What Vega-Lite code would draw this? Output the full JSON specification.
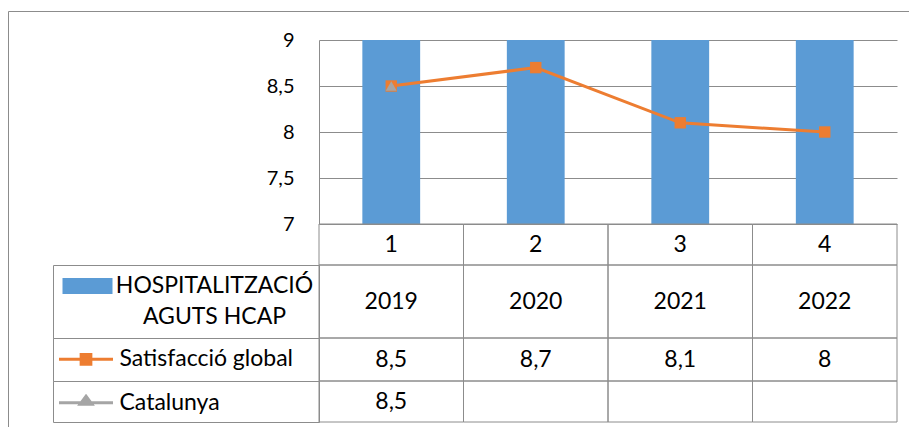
{
  "$schema": "https://vega.github.io/schema/vega-lite/v6.json",
  "padding": {"left": 8, "top": 11, "right": 0, "bottom": 0},
  "background": "white",
  "datasets": {
    "main": [
      {"idx": "1", "hosp": 2019, "sat": 8.5, "cat": 8.5},
      {"idx": "2", "hosp": 2020, "sat": 8.7, "cat": null},
      {"idx": "3", "hosp": 2021, "sat": 8.1, "cat": null},
      {"idx": "4", "hosp": 2022, "sat": 8, "cat": null}
    ],
    "series": [
      {"series": "HOSPITALITZACIÓ AGUTS HCAP"},
      {"series": "Satisfacció global"},
      {"series": "Catalunya"}
    ]
  },
  "columns": 2,
  "spacing": 0,
  "bounds": "flush",
  "concat": [
    {
      "width": 266, "height": 184,
      "data": {"values": []},
      "mark": {"type": "point", "opacity": 0},
      "encoding": {
        "x": {"field": "f", "type": "quantitative", "scale": {"domain": [0, 1], "range": [-45, 856]},
              "axis": {"orient": "top", "offset": 29, "grid": false, "ticks": false, "labels": false, "domainColor": "#8c8c8c", "title": null}},
        "y": {"field": "g", "type": "quantitative", "scale": {"domain": [0, 1], "range": [387, -29]},
              "axis": {"orient": "left", "offset": 45, "grid": false, "ticks": false, "labels": false, "domainColor": "#8c8c8c", "title": null}}
      }
    },
    {
      "width": 578, "height": 184,
      "data": {"name": "main"},
      "encoding": {
        "x": {"field": "idx", "type": "nominal", "scale": {"domain": ["1", "2", "3", "4"], "paddingInner": 0.6, "paddingOuter": 0.3}, "axis": null}
      },
      "layer": [
        {
          "mark": {"type": "bar", "color": "#5B9BD5", "clip": true},
          "encoding": {
            "y": {"field": "hosp", "type": "quantitative", "title": null,
                  "scale": {"domain": [7, 9], "zero": false, "nice": false},
                  "axis": {"values": [7, 7.5, 8, 8.5, 9], "format": "~g", "labelFont": "Lato", "labelFontSize": 20, "labelColor": "#000000", "labelPadding": 25, "ticks": false, "domain": true, "domainColor": "#8c8c8c", "grid": true, "gridColor": "#8c8c8c", "gridOpacity": 1, "title": null}},
            "y2": {"datum": 7}
          }
        },
        {
          "mark": {"type": "line", "color": "#ED7D31", "strokeWidth": 3},
          "encoding": {"y": {"field": "sat", "type": "quantitative", "title": null}}
        },
        {
          "mark": {"type": "point", "shape": "square", "filled": true, "size": 130, "color": "#ED7D31", "opacity": 1},
          "encoding": {"y": {"field": "sat", "type": "quantitative", "title": null}}
        },
        {
          "transform": [{"filter": "isValid(datum.cat)"}],
          "mark": {"type": "point", "shape": "triangle-up", "filled": true, "size": 120, "color": "#A5A5A5", "opacity": 1},
          "encoding": {"y": {"field": "cat", "type": "quantitative", "title": null}}
        }
      ]
    },
    {
      "width": 266, "height": 41,
      "data": {"values": []},
      "mark": {"type": "point", "opacity": 0},
      "encoding": {}
    },
    {
      "width": 578, "height": 41,
      "data": {"name": "main"},
      "encoding": {
        "x": {"field": "idx", "type": "nominal", "scale": {"domain": ["1", "2", "3", "4"], "paddingInner": 0, "paddingOuter": 0}, "axis": null}
      },
      "layer": [
        {"mark": {"type": "rect", "filled": false, "color": "#8c8c8c", "strokeWidth": 1}},
        {"mark": {"type": "text", "font": "Lato", "fontSize": 23, "color": "#000000", "baseline": "middle"},
         "encoding": {"text": {"field": "idx"}}}
      ]
    },
    {
      "width": 266, "height": 73,
      "view": {"stroke": "#8c8c8c"},
      "data": {"name": "series"},
      "transform": [{"filter": "datum.series == 'HOSPITALITZACIÓ AGUTS HCAP'"}],
      "mark": {"type": "point", "filled": true, "opacity": 0},
      "encoding": {
        "color": {"field": "series", "type": "nominal", "scale": {"range": ["#5B9BD5"]},
          "legend": {"orient": "none", "legendX": 9.5, "legendY": -4, "title": null, "padding": 0,
                     "symbolType": "M-1,-0.32H1V0.32H-1Z", "symbolSize": 2500, "symbolStrokeWidth": 0, "symbolOpacity": 1,
                     "labelExpr": "[slice(datum.label, 0, indexof(datum.label, ' ')), slice(datum.label, indexof(datum.label, ' ') + 1)]",
                     "labelAlign": "center", "labelOffset": 102, "labelFont": "Lato", "labelFontSize": 23, "labelColor": "#000000", "labelLimit": 0}}
      }
    },
    {
      "width": 578, "height": 73,
      "data": {"name": "main"},
      "encoding": {
        "x": {"field": "idx", "type": "nominal", "scale": {"domain": ["1", "2", "3", "4"], "paddingInner": 0, "paddingOuter": 0}, "axis": null}
      },
      "layer": [
        {"mark": {"type": "rect", "filled": false, "color": "#8c8c8c", "strokeWidth": 1}},
        {"mark": {"type": "text", "font": "Lato", "fontSize": 23, "color": "#000000", "baseline": "middle"},
         "encoding": {"text": {"field": "hosp", "type": "quantitative", "format": "~g"}}}
      ]
    },
    {
      "width": 266, "height": 43,
      "view": {"stroke": "#8c8c8c"},
      "data": {"name": "series"},
      "transform": [{"filter": "datum.series == 'Satisfacció global'"}],
      "mark": {"type": "point", "filled": true, "opacity": 0},
      "encoding": {
        "color": {"field": "series", "type": "nominal", "scale": {"range": ["#ED7D31"]},
          "legend": {"orient": "none", "legendX": 4.5, "legendY": -7.2, "title": null, "padding": 0,
                     "symbolType": "M-1,0H1M-0.18,-0.18H0.18V0.18H-0.18Z", "symbolSize": 2916, "symbolStrokeWidth": 3, "symbolStrokeColor": "#ED7D31", "symbolOpacity": 1,
                     "labelAlign": "left", "labelOffset": 5, "labelFont": "Lato", "labelFontSize": 23, "labelColor": "#000000", "labelLimit": 0}}
      }
    },
    {
      "width": 578, "height": 43,
      "data": {"name": "main"},
      "encoding": {
        "x": {"field": "idx", "type": "nominal", "scale": {"domain": ["1", "2", "3", "4"], "paddingInner": 0, "paddingOuter": 0}, "axis": null}
      },
      "layer": [
        {"mark": {"type": "rect", "filled": false, "color": "#8c8c8c", "strokeWidth": 1}},
        {"mark": {"type": "text", "font": "Lato", "fontSize": 23, "color": "#000000", "baseline": "middle"},
         "encoding": {"text": {"field": "sat", "type": "quantitative", "format": "~g"}}}
      ]
    },
    {
      "width": 266, "height": 41,
      "view": {"stroke": "#8c8c8c"},
      "data": {"name": "series"},
      "transform": [{"filter": "datum.series == 'Catalunya'"}],
      "mark": {"type": "point", "filled": true, "opacity": 0},
      "encoding": {
        "color": {"field": "series", "type": "nominal", "scale": {"range": ["#A5A5A5"]},
          "legend": {"orient": "none", "legendX": 4.5, "legendY": -6.8, "title": null, "padding": 0,
                     "symbolType": "M-1,0H1M0,-0.24L0.22,0.06H-0.22Z", "symbolSize": 2916, "symbolStrokeWidth": 3, "symbolStrokeColor": "#A5A5A5", "symbolOpacity": 1,
                     "labelAlign": "left", "labelOffset": 5, "labelFont": "Lato", "labelFontSize": 23, "labelColor": "#000000", "labelLimit": 0}}
      }
    },
    {
      "width": 578, "height": 41,
      "data": {"name": "main"},
      "encoding": {
        "x": {"field": "idx", "type": "nominal", "scale": {"domain": ["1", "2", "3", "4"], "paddingInner": 0, "paddingOuter": 0}, "axis": null}
      },
      "layer": [
        {"mark": {"type": "rect", "filled": false, "color": "#8c8c8c", "strokeWidth": 1}},
        {"transform": [{"filter": "isValid(datum.cat)"}],
         "mark": {"type": "text", "font": "Lato", "fontSize": 23, "color": "#000000", "baseline": "middle"},
         "encoding": {"text": {"field": "cat", "type": "quantitative", "format": "~g"}}}
      ]
    }
  ],
  "resolve": {
    "scale": {"x": "independent", "y": "independent", "color": "independent"},
    "legend": {"color": "independent"}
  },
  "config": {
    "view": {"stroke": null},
    "font": "Lato",
    "locale": {"number": {"decimal": ",", "thousands": ".", "grouping": [3], "currency": ["", " €"]}},
    "legend": {"padding": 0},
    "style": {"guide-label": {"lineHeight": 31}}
  }
}
